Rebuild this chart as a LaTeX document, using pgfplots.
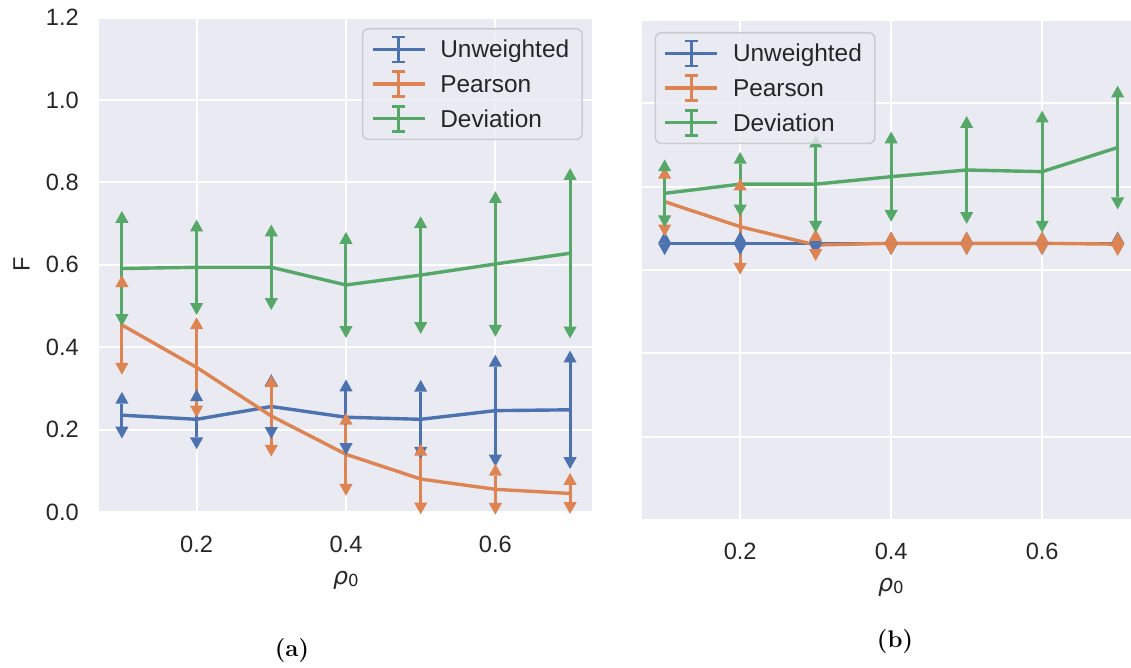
\documentclass[border=0pt]{standalone}
\usepackage{fontspec}
\usepackage{pgfplots}
\pgfplotsset{compat=1.18}
\usepackage{pgfplotstable}
\newfontfamily\sansf{Liberation Sans}
\newfontfamily\dejavu{DejaVu Sans}
\definecolor{c1}{RGB}{76,114,176}
\definecolor{c2}{RGB}{221,132,82}
\definecolor{c3}{RGB}{85,168,104}
\definecolor{bgc}{RGB}{234,234,242}
\definecolor{txt}{RGB}{38,38,38}
\definecolor{legedge}{RGB}{204,204,208}

\pgfdeclareplotmark{caretup}{%
 \pgfpathmoveto{\pgfqpoint{-3.3pt}{0pt}}%
 \pgfpathlineto{\pgfqpoint{3.3pt}{0pt}}%
 \pgfpathlineto{\pgfqpoint{0pt}{5.9pt}}%
 \pgfpathclose\pgfusepathqfill}
\pgfdeclareplotmark{caretdown}{%
 \pgfpathmoveto{\pgfqpoint{-3.3pt}{0pt}}%
 \pgfpathlineto{\pgfqpoint{3.3pt}{0pt}}%
 \pgfpathlineto{\pgfqpoint{0pt}{-5.9pt}}%
 \pgfpathclose\pgfusepathqfill}

\pgfplotstableread{
x u ue p pe d de
0.1 0.235 0.028 0.454 0.092 0.591 0.111
0.2 0.225 0.044 0.351 0.093 0.594 0.087
0.3 0.256 0.050 0.233 0.070 0.594 0.075
0.4 0.230 0.063 0.140 0.072 0.551 0.100
0.5 0.225 0.067 0.080 0.057 0.575 0.114
0.6 0.246 0.107 0.055 0.033 0.602 0.148
0.7 0.248 0.115 0.045 0.021 0.628 0.178
}\dataA
\pgfplotstableread{
x u ue p pe d de
0.1 0.664 0 0.764 0.055 0.784 0.053
0.2 0.664 0 0.704 0.087 0.806 0.049
0.3 0.664 0 0.660 0.010 0.806 0.088
0.4 0.664 0 0.664 0 0.824 0.080
0.5 0.664 0 0.664 0 0.840 0.101
0.6 0.664 0 0.664 0 0.836 0.118
0.7 0.664 0 0.662 0 0.894 0.120
}\dataB

\newcommand{\legimg}[1]{%
 \draw[#1, line width=1.7pt] (0pt,0pt) -- (26pt,0pt);
 \draw[#1, line width=1.4pt] (13pt,-6.25pt) -- (13pt,6.25pt) (9.75pt,-6.25pt) -- (16.25pt,-6.25pt) (9.75pt,6.25pt) -- (16.25pt,6.25pt);
 \path[draw=none] (0pt,0pt) -- (31.5pt,0pt);}

\newcommand{\series}[4]{%
 \addplot[#4, line width=1.7pt, forget plot, error bars/.cd, y dir=both, y explicit, error mark=none, error bar style={line width=1.5pt, #4}] table[x=x, y=#2, y error=#3] {#1};
}
\newcommand{\caps}[4]{%
 \addplot[#4, only marks, mark=caretup, forget plot] table[x=x, y expr=\thisrow{#2}+\thisrow{#3}] {#1};
 \addplot[#4, only marks, mark=caretdown, forget plot] table[x=x, y expr=\thisrow{#2}-\thisrow{#3}] {#1};
}

\pgfplotsset{
 legU/.style={legend image code/.code={\legimg{c1}}},
 legP/.style={legend image code/.code={\legimg{c2}}},
 legD/.style={legend image code/.code={\legimg{c3}}},
 sb/.style={
  scale only axis,
  axis background/.style={fill=bgc},
  axis line style={draw=none},
  major tick length=0pt,
  grid=major,
  major grid style={white, line width=1pt, solid},
  xmin=0.07, ymin=0, ymax=1.2,
  xtick={0.2,0.4,0.6},
  ytick={0,0.2,0.4,0.6,0.8,1.0,1.2},
  tick label style={font=\sansf\fontsize{11.8}{14}\selectfont, text=txt,
    /pgf/number format/fixed, /pgf/number format/fixed zerofill,
    /pgf/number format/precision=1, /pgf/number format/assume math mode=true},
  label style={font=\sansf\fontsize{11.8}{14}\selectfont, text=txt},
  yticklabel style={xshift=-6.85pt},
  legend cell align=left,
  legend style={draw=legedge, line width=0.8pt, rounded corners=3pt,
   fill=bgc, fill opacity=0.8, text opacity=1, draw opacity=1,
   font=\sansf\fontsize{12.2}{14}\selectfont, text=txt,
   inner xsep=4.2pt, inner ysep=3.4pt, row sep=3.4pt,
   nodes={inner sep=2.3pt, text height=8.5pt, text depth=0pt}},
 }
}

\begin{document}
\begin{tikzpicture}
\useasboundingbox (0,0) rectangle (565.5pt,334pt);
\begin{axis}[sb, at={(49.75pt,78pt)}, anchor=south west, width=246.5pt, height=247.2pt, xmax=0.73,
 xticklabel style={yshift=-8.4pt},
 ylabel={F}, ylabel style={at={(axis description cs:-0.158,0.5)}, anchor=center},
 xlabel={{\dejavu\textit{ρ}\raisebox{-0.7pt}{\fontsize{8.3}{10}\selectfont 0}}},
 xlabel style={at={(axis description cs:0.5,0)}, anchor=center, yshift=-34.4pt},
 legend style={at={(1,1)}, anchor=north east, xshift=-4.75pt, yshift=-5.2pt}]
\addlegendimage{legU}\addlegendentry{Unweighted}
\addlegendimage{legP}\addlegendentry{Pearson}
\addlegendimage{legD}\addlegendentry{Deviation}
\series{\dataA}{u}{ue}{c1}
\series{\dataA}{p}{pe}{c2}
\series{\dataA}{d}{de}{c3}
\caps{\dataA}{u}{ue}{c1}
\caps{\dataA}{p}{pe}{c2}
\caps{\dataA}{d}{de}{c3}
\end{axis}
\begin{axis}[sb, at={(321pt,74pt)}, anchor=south west, width=244.5pt, height=250pt, xmax=0.7177,
 xticklabel style={yshift=-7.8pt},
 yticklabels={},
 xlabel={{\dejavu\textit{ρ}\raisebox{-0.7pt}{\fontsize{8.3}{10}\selectfont 0}}},
 xlabel style={at={(axis description cs:0.509,0)}, anchor=center, yshift=-33.75pt},
 legend style={at={(0,1)}, anchor=north west, xshift=6.25pt, yshift=-6pt}]
\addlegendimage{legU}\addlegendentry{Unweighted}
\addlegendimage{legP}\addlegendentry{Pearson}
\addlegendimage{legD}\addlegendentry{Deviation}
\series{\dataB}{u}{ue}{c1}
\series{\dataB}{p}{pe}{c2}
\series{\dataB}{d}{de}{c3}
\caps{\dataB}{u}{ue}{c1}
\caps{\dataB}{p}{pe}{c2}
\caps{\dataB}{d}{de}{c3}
\end{axis}
\node[font=\fontsize{12}{14}\selectfont\bfseries, inner sep=0pt] at (146pt,8.5pt) {(a)};
\node[font=\fontsize{12}{14}\selectfont\bfseries, inner sep=0pt] at (447.5pt,13.25pt) {(b)};
\end{tikzpicture}
\end{document}
